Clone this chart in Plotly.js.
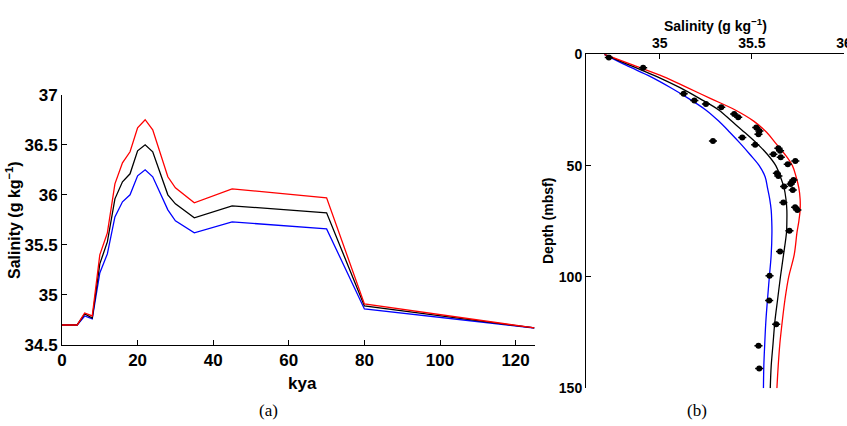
<!DOCTYPE html>
<html>
<head>
<meta charset="utf-8">
<script src="https://cdn.plot.ly/plotly-3.0.1.min.js"></script>
<style>html,body{margin:0;padding:0;background:#fff;overflow:hidden;}#chart{width:847px;height:426px;}</style>
</head>
<body>
<div id="chart"></div>
<script>
// Panel (a): salinity history (kya)
const kya = [0, 4, 6, 8, 10, 12, 14, 16, 18, 20, 22, 24, 28, 30, 35, 45, 70, 80, 125];
const histRed   = [34.70, 34.70, 34.82, 34.79, 35.40, 35.62, 36.11, 36.32, 36.43, 36.67, 36.75, 36.65, 36.18, 36.07, 35.92, 36.06, 35.97, 34.91, 34.67];
const histBlack = [34.70, 34.70, 34.81, 34.77, 35.31, 35.53, 35.96, 36.13, 36.21, 36.44, 36.50, 36.43, 36.00, 35.91, 35.77, 35.89, 35.82, 34.89, 34.67];
const histBlue  = [34.70, 34.70, 34.79, 34.76, 35.22, 35.41, 35.78, 35.93, 36.00, 36.19, 36.25, 36.18, 35.85, 35.74, 35.62, 35.73, 35.66, 34.86, 34.67];

// Panel (b): modelled porewater profiles (depth, mbsf)
const depth = [0, 5, 10, 15, 20, 25, 30, 35, 40, 45, 50, 55, 60, 65, 70, 75, 80, 90, 100, 110, 120, 130, 140, 150];
const profRed   = [34.70, 34.86, 35.02, 35.15, 35.28, 35.41, 35.51, 35.58, 35.63, 35.68, 35.72, 35.74, 35.755, 35.762, 35.762, 35.755, 35.745, 35.73, 35.70, 35.68, 35.665, 35.652, 35.643, 35.636];
const profBlack = [34.70, 34.84, 34.985, 35.11, 35.22, 35.32, 35.39, 35.46, 35.527, 35.585, 35.63, 35.655, 35.675, 35.685, 35.69, 35.69, 35.688, 35.672, 35.655, 35.64, 35.625, 35.615, 35.605, 35.60];
const profBlue  = [34.70, 34.82, 34.95, 35.06, 35.16, 35.25, 35.32, 35.38, 35.437, 35.49, 35.54, 35.572, 35.585, 35.597, 35.605, 35.608, 35.609, 35.605, 35.595, 35.585, 35.576, 35.57, 35.565, 35.563];

// Measured porewater salinity
const obsSal   = [34.724, 34.910, 35.130, 35.188, 35.251, 35.334, 35.404, 35.426, 35.524, 35.541, 35.536, 35.289, 35.448, 35.518, 35.644, 35.653, 35.617, 35.657, 35.736, 35.695, 35.636, 35.644, 35.726, 35.717, 35.711, 35.675, 35.722, 35.671, 35.735, 35.747, 35.704, 35.653, 35.596, 35.594, 35.632, 35.536, 35.540];
const obsDepth = [1.4, 6.0, 17.7, 20.7, 22.3, 23.8, 26.8, 28.3, 32.9, 34.4, 35.9, 38.9, 37.4, 40.6, 42.2, 43.3, 44.9, 46.2, 47.9, 49.4, 53.4, 54.6, 56.4, 57.5, 58.3, 59.4, 60.9, 66.6, 68.7, 69.9, 79.2, 88.6, 99.5, 110.6, 121.2, 130.9, 141.1];

const leftTicksY = [34.5, 35, 35.5, 36, 36.5, 37];
const leftTicksYText = ['34.5', '35', '35.5', '36', '36.5', '37'];
const leftTicksX = [0, 20, 40, 60, 80, 100, 120];
const rightTicksX = [35, 35.5, 36];
const rightTicksXText = ['35', '35.5', '36'];
const rightTicksY = [0, 50, 100, 150];

const FONT = 'Liberation Sans, Arial, Helvetica, sans-serif';
const lw = 1.3;

const traces = [
  {x: kya, y: histBlue, mode: 'lines', line: {color: '#0000ff', width: lw}, xaxis: 'x', yaxis: 'y'},
  {x: kya, y: histBlack, mode: 'lines', line: {color: '#000000', width: lw}, xaxis: 'x', yaxis: 'y'},
  {x: kya, y: histRed, mode: 'lines', line: {color: '#ff0000', width: lw}, xaxis: 'x', yaxis: 'y'},
  {x: profBlue, y: depth, mode: 'lines', line: {color: '#0000ff', width: lw, shape: 'spline'}, xaxis: 'x2', yaxis: 'y2'},
  {x: profBlack, y: depth, mode: 'lines', line: {color: '#000000', width: lw, shape: 'spline'}, xaxis: 'x2', yaxis: 'y2'},
  {x: profRed, y: depth, mode: 'lines', line: {color: '#ff0000', width: lw, shape: 'spline'}, xaxis: 'x2', yaxis: 'y2'},
  {x: obsSal, y: obsDepth, mode: 'markers', marker: {color: '#000', size: 6, symbol: 'circle'},
   error_x: {type: 'constant', value: 0.022, thickness: 1.5, width: 0, color: '#000'}, xaxis: 'x2', yaxis: 'y2'}
];

const axCommon = {showgrid: false, zeroline: false, showline: true, linecolor: '#000', linewidth: 1,
  ticks: 'inside', ticklen: 5, tickcolor: '#000', mirror: false, ticklabeloverflow: 'allow'};

const layout = {
  width: 847, height: 426,
  margin: {l: 0, r: 0, t: 0, b: 0},
  paper_bgcolor: '#fff', plot_bgcolor: '#fff',
  showlegend: false,
  xaxis: Object.assign({}, axCommon, {domain: [62/847, 534.5/847], range: [0, 125], tickmode: 'array', tickvals: leftTicksX,
    tickfont: {family: FONT, size: 17, weight: 'bold', color: '#000'}, anchor: 'y'}),
  yaxis: Object.assign({}, axCommon, {domain: [1 - 345/426, 1 - 94.7/426], range: [34.5, 37], tickmode: 'array',
    tickvals: leftTicksY, ticktext: leftTicksYText, tickfont: {family: FONT, size: 17, weight: 'bold', color: '#000'}, anchor: 'x'}),
  xaxis2: Object.assign({}, axCommon, {domain: [586/847, 844/847], range: [34.6, 36.0001], side: 'top', tickmode: 'array',
    tickvals: rightTicksX, ticktext: rightTicksXText, tickfont: {family: FONT, size: 14, weight: 'bold', color: '#000'}, anchor: 'y2'}),
  yaxis2: Object.assign({}, axCommon, {domain: [1 - 388.3/426, 1 - 54.3/426], range: [150, 0], tickmode: 'array',
    tickvals: rightTicksY, tickfont: {family: FONT, size: 14, weight: 'bold', color: '#000'}, anchor: 'x2'}),
  annotations: [
    {text: 'Salinity (g kg<sup>−1</sup>)', xref: 'paper', yref: 'paper', x: 13/847, y: 1 - 220/426, textangle: -90,
     showarrow: false, xanchor: 'center', yanchor: 'middle', font: {family: FONT, size: 16, weight: 'bold', color: '#000'}},
    {text: 'kya', xref: 'paper', yref: 'paper', x: 302/847, y: 1 - 383/426, showarrow: false, xanchor: 'center', yanchor: 'middle',
     font: {family: FONT, size: 17, weight: 'bold', color: '#000'}},
    {text: 'Salinity (g kg<sup>−1</sup>)', xref: 'paper', yref: 'paper', x: 715/847, y: 1 - 25/426, showarrow: false,
     xanchor: 'center', yanchor: 'middle', font: {family: FONT, size: 14, weight: 'bold', color: '#000'}},
    {text: 'Depth (mbsf)', xref: 'paper', yref: 'paper', x: 548/847, y: 1 - 221/426, textangle: -90, showarrow: false,
     xanchor: 'center', yanchor: 'middle', font: {family: FONT, size: 14, weight: 'bold', color: '#000'}},
    {text: '(a)', xref: 'paper', yref: 'paper', x: 268/847, y: 1 - 410/426, showarrow: false, xanchor: 'center', yanchor: 'middle',
     font: {family: 'Liberation Serif, DejaVu Serif, serif', size: 17, color: '#000'}},
    {text: '(b)', xref: 'paper', yref: 'paper', x: 697/847, y: 1 - 410/426, showarrow: false, xanchor: 'center', yanchor: 'middle',
     font: {family: 'Liberation Serif, DejaVu Serif, serif', size: 17, color: '#000'}}
  ]
};

Plotly.newPlot('chart', traces, layout, {displayModeBar: false, staticPlot: true});
</script>
</body>
</html>
